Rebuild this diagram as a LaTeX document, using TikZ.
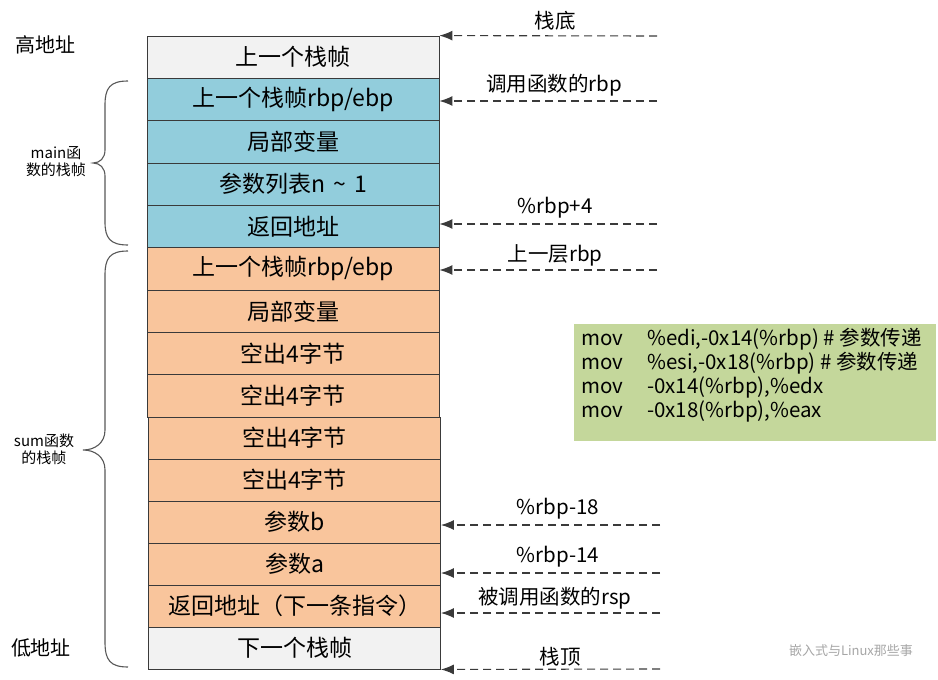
\documentclass[tikz,border=0pt]{standalone}
\usepackage{fontspec}
\setmainfont{Noto Sans CJK SC}
\usetikzlibrary{arrows.meta}
\definecolor{greyc}{HTML}{F2F2F2}
\definecolor{bluec}{HTML}{92CDDC}
\definecolor{orangec}{HTML}{F9C59C}
\definecolor{greenc}{HTML}{C4D79B}
\definecolor{linec}{HTML}{3A3A3A}
\begin{document}
\begin{tikzpicture}[x=1pt,y=-1pt,
  cell/.style={minimum width=292pt,minimum height=42.3pt,inner sep=0pt,draw=linec,line width=0.9pt,font=\fontsize{23}{25}\selectfont},
  greycell/.style={cell,fill=greyc},
  bluecell/.style={cell,fill=bluec},
  orangecell/.style={cell,fill=orangec},
  ptrlabel/.style={font=\fontsize{20.5}{22}\selectfont,inner sep=0pt},
  sidelabel/.style={font=\fontsize{20}{22}\selectfont,inner sep=0pt},
  smalllabel/.style={font=\fontsize{15}{17}\selectfont,inner sep=0pt,align=center},
  ptr/.style={draw=linec,line width=1.1pt,dash pattern=on 8pt off 5pt,-{Latex[length=13pt,width=10pt]}},
  bracec/.style={draw=linec!85,line width=1.1pt}]
\useasboundingbox (0,0) rectangle (938,680);

% upper stack rows
\node[greycell]   (r1) at (293,57.2)  {上一个栈帧};
\node[bluecell]   (r2) at (293,99.5)  {上一个栈帧rbp/ebp};
\node[bluecell]   (r3) at (293,141.8) {局部变量};
\node[bluecell]   (r4) at (293,184.2) {参数列表n\hspace{0.35em}\textasciitilde\hspace{0.35em}1};
\node[bluecell]   (r5) at (293,226.5) {返回地址};
\node[orangecell] (r6) at (293,268.8) {上一个栈帧rbp/ebp};
\node[orangecell] (r7) at (293,311.2) {局部变量};
\node[orangecell] (r8) at (293,353.5) {空出4字节};
\node[orangecell] (r9) at (293,395.8) {空出4字节};
% lower stack rows
\begin{scope}[cell/.append style={minimum height=42pt}]
\node[orangecell] (r10) at (294.5,438) {空出4字节};
\node[orangecell] (r11) at (294.5,480) {空出4字节};
\node[orangecell] (r12) at (294.5,522) {参数b};
\node[orangecell] (r13) at (294.5,564) {参数a};
\node[orangecell] (r14) at (294.5,606) {返回地址（下一条指令）};
\node[greycell]   (r15) at (294.5,648) {下一个栈帧};
\end{scope}

% pointer labels
\node[ptrlabel] (l1) at (555,21)  {栈底};
\node[ptrlabel] (l2) at (554,85)  {调用函数的rbp};
\node[ptrlabel] (l3) at (555,208) {\%rbp+4};
\node[ptrlabel] (l4) at (555,255) {上一层rbp};
\node[ptrlabel] (l5) at (558,509) {\%rbp-18};
\node[ptrlabel] (l6) at (558,557) {\%rbp-14};
\node[ptrlabel] (l7) at (555,598) {被调用函数的rsp};
\node[ptrlabel] (l8) at (560,657) {栈顶};

% pointer arrows
\coordinate (a1) at (657,36);
\coordinate (a2) at (657,101);
\coordinate (a3) at (657,224);
\coordinate (a4) at (657,270);
\coordinate (a5) at (660,525);
\coordinate (a6) at (660,573);
\coordinate (a7) at (660,613);
\coordinate (a8) at (660,669);
\draw[ptr] (a1) -- (r1.north east);
\draw[ptr] (a2) -- (a2 -| r2.east);
\draw[ptr] (a3) -- (a3 -| r5.east);
\draw[ptr] (a4) -- (a4 -| r6.east);
\draw[ptr] (a5) -- (a5 -| r12.east);
\draw[ptr] (a6) -- (a6 -| r13.east);
\draw[ptr] (a7) -- (a7 -| r14.east);
\draw[ptr] (a8) -- (r15.south east);

% side labels
\node[sidelabel] (high) at (46,45) {高地址};
\node[sidelabel] (low) at (41,648) {低地址};
\node[smalllabel] (mainl) at (56,162) {main函\\数的栈帧};
\node[smalllabel] (suml) at (44,449) {sum函数\\的栈帧};

% braces
\draw[bracec] (128,81) .. controls (110,81) and (105,88) .. (105,105) -- (105,150)
  .. controls (105,158) and (100,163) .. (93,163)
  .. controls (100,163) and (105,168) .. (105,176) -- (105,222)
  .. controls (105,238) and (110,245) .. (128,245);
\draw[bracec] (128,251) .. controls (110,251) and (105,258) .. (105,275) -- (105,430)
  .. controls (105,443) and (95,450) .. (83,450)
  .. controls (95,450) and (105,457) .. (105,470) -- (105,642)
  .. controls (105,660) and (110,667) .. (128,667);

% code box
\fill[greenc] (574,324) rectangle (936,441);
\node[anchor=north west,inner sep=0pt,align=left,font=\fontsize{20.5}{24}\selectfont] (code) at (581,328)
 {\makebox[66pt][l]{mov}\%edi,-0x14(\%rbp) \# 参数传递\\
  \makebox[66pt][l]{mov}\%esi,-0x18(\%rbp) \# 参数传递\\
  \makebox[66pt][l]{mov}-0x14(\%rbp),\%edx\\
  \makebox[66pt][l]{mov}-0x18(\%rbp),\%eax};

% watermark
\node[inner sep=0pt,text=black!35,font=\fontsize{13}{15}\selectfont] (wm) at (851,651) {嵌入式与Linux那些事};
\end{tikzpicture}
\end{document}
